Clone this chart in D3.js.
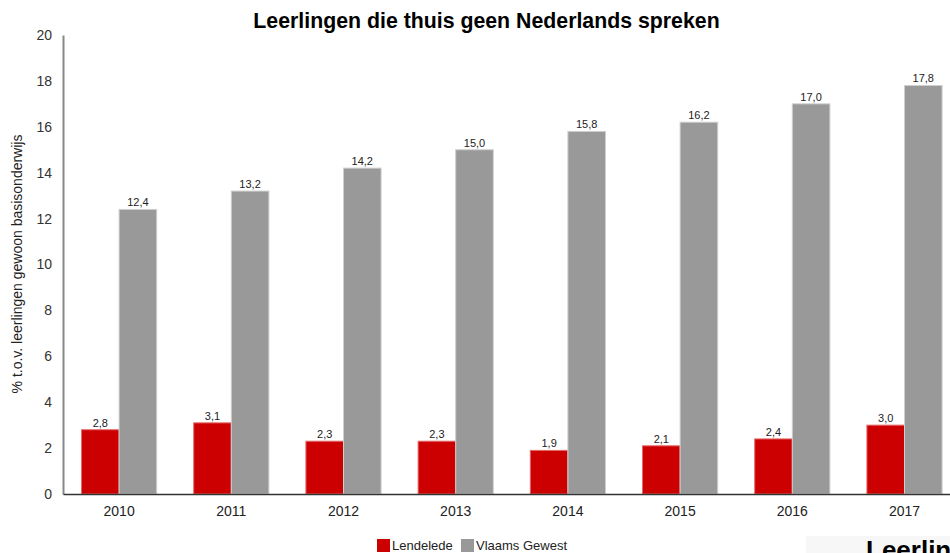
<!DOCTYPE html>
<html>
<head>
<meta charset="utf-8">
<script src="https://cdn.jsdelivr.net/npm/d3@7"></script>
<style>
  html, body { margin: 0; padding: 0; background: #fff; }
  svg { display: block; font-family: "Liberation Sans", Arial, sans-serif; }
</style>
</head>
<body>
<svg id="chart" width="950" height="553"></svg>
<script>
const years = ["2010", "2011", "2012", "2013", "2014", "2015", "2016", "2017"];
const lendelede = [2.8, 3.1, 2.3, 2.3, 1.9, 2.1, 2.4, 3.0];
const vlaamsGewest = [12.4, 13.2, 14.2, 15.0, 15.8, 16.2, 17.0, 17.8];
const seriesNames = ["Lendelede", "Vlaams Gewest"];
const seriesColors = ["#cc0000", "#999999"];
const yTicks = [0, 2, 4, 6, 8, 10, 12, 14, 16, 18, 20];

const svg = d3.select("#chart");
const fmt = v => d3.format(".1f")(v).replace(".", ",");

const x0 = d3.scaleBand().domain(years).range([63, 960.6]).paddingInner(0.33).paddingOuter(0.165);
const x1 = d3.scaleBand().domain(seriesNames).range([0, x0.bandwidth()]);
const y = d3.scaleLinear().domain([0, 20]).range([494, 35]);

// Title
svg.append("text")
  .attr("x", 486.5).attr("y", 28)
  .attr("text-anchor", "middle")
  .attr("font-size", 21.3).attr("font-weight", "bold").attr("fill", "#000")
  .text("Leerlingen die thuis geen Nederlands spreken");

// Y axis label
svg.append("text")
  .attr("transform", "translate(22,264) rotate(-90)")
  .attr("text-anchor", "middle")
  .attr("font-size", 14).attr("fill", "#222")
  .text("% t.o.v. leerlingen gewoon basisonderwijs");

// Y axis
const yAxis = svg.append("g")
  .attr("transform", "translate(63,0)")
  .call(d3.axisLeft(y).tickValues(yTicks).tickSize(0).tickPadding(11));
yAxis.select(".domain").attr("stroke", "#888").attr("stroke-width", 2);
yAxis.selectAll("text").attr("font-size", 14).attr("fill", "#333")
  .attr("font-family", "Liberation Sans, Arial, sans-serif");

// Bars
const data = years.map((yr, i) => ({ year: yr, vals: [lendelede[i], vlaamsGewest[i]] }));
const groups = svg.append("g").selectAll("g").data(data).join("g")
  .attr("transform", d => `translate(${x0(d.year)},0)`);

groups.selectAll("rect").data(d => d.vals.map((v, k) => ({ v, k })))
  .join("rect")
  .attr("x", d => x1(seriesNames[d.k]))
  .attr("y", d => y(d.v))
  .attr("width", x1.bandwidth())
  .attr("height", d => y(0) - y(d.v))
  .attr("fill", d => seriesColors[d.k])
  .attr("stroke", d => d.k === 0 ? "#e46a6a" : "#cfcfcf")
  .attr("stroke-width", 1);

groups.selectAll("text.val").data(d => d.vals.map((v, k) => ({ v, k })))
  .join("text")
  .attr("class", "val")
  .attr("x", d => x1(seriesNames[d.k]) + x1.bandwidth() / 2)
  .attr("y", d => y(d.v) - 3)
  .attr("text-anchor", "middle")
  .attr("font-size", 11).attr("fill", "#222")
  .text(d => fmt(d.v));

// X axis
const xAxis = svg.append("g")
  .attr("transform", "translate(0,494)")
  .call(d3.axisBottom(x0).tickSize(0).tickPadding(12));
xAxis.select(".domain").attr("stroke", "#333").attr("stroke-width", 1.5);
xAxis.selectAll("text").attr("font-size", 14).attr("fill", "#222")
  .attr("font-family", "Liberation Sans, Arial, sans-serif");

// Legend
const legendX = [377, 461];
const legend = svg.append("g");
seriesNames.forEach((name, i) => {
  legend.append("rect").attr("x", legendX[i]).attr("y", 539)
    .attr("width", 13).attr("height", 13).attr("fill", seriesColors[i]);
  legend.append("text").attr("x", legendX[i] + 15).attr("y", 550)
    .attr("font-size", 13).attr("fill", "#222").text(name);
});

// Start of the next chart, cut off at the bottom edge
svg.append("rect").attr("x", 806).attr("y", 536).attr("width", 144).attr("height", 20).attr("fill", "#f7f7f7");
svg.append("text").attr("x", 866).attr("y", 559)
  .attr("font-size", 26).attr("font-weight", "bold").attr("fill", "#000")
  .text("Leerlin");
</script>
</body>
</html>
